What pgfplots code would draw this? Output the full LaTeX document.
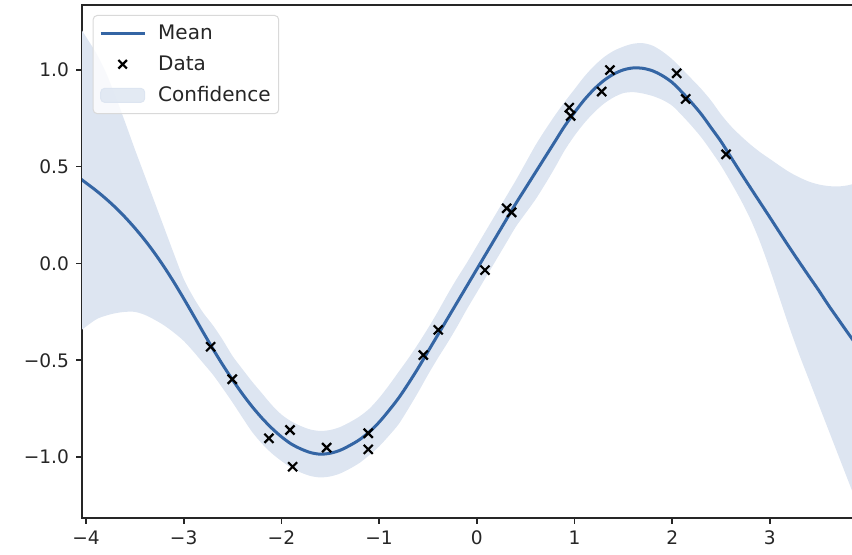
\documentclass[border=0pt]{standalone}
\usepackage{fontspec}
\setmainfont{DejaVu Sans}
\usepackage{pgfplots}
\pgfplotsset{compat=1.18}
\usepackage{pgfplotstable}
\usepgfplotslibrary{fillbetween}
\definecolor{meanblue}{RGB}{52,101,164}
\definecolor{bandblue}{RGB}{221,229,241}

\pgfplotstableread{
x m u l
-4.05 0.435 1.21 -0.345
-3.9 0.378 1.09 -0.29
-3.8 0.336 0.99 -0.27
-3.7 0.290 0.865 -0.257
-3.6 0.239 0.73 -0.25
-3.5 0.183 0.59 -0.25
-3.4 0.122 0.455 -0.265
-3.3 0.055 0.32 -0.29
-3.2 -0.018 0.185 -0.32
-3.1 -0.097 0.05 -0.357
-3.0 -0.181 -0.08 -0.40
-2.9 -0.268 -0.175 -0.455
-2.8 -0.356 -0.255 -0.515
-2.7 -0.442 -0.32 -0.575
-2.6 -0.524 -0.395 -0.645
-2.5 -0.601 -0.478 -0.718
-2.4 -0.673 -0.545 -0.795
-2.3 -0.739 -0.61 -0.87
-2.2 -0.798 -0.67 -0.93
-2.1 -0.850 -0.73 -0.98
-2.0 -0.895 -0.78 -1.02
-1.9 -0.932 -0.815 -1.055
-1.8 -0.958 -0.84 -1.08
-1.7 -0.977 -0.858 -1.098
-1.6 -0.985 -0.865 -1.105
-1.5 -0.98 -0.86 -1.10
-1.4 -0.965 -0.845 -1.085
-1.3 -0.94 -0.82 -1.06
-1.2 -0.91 -0.79 -1.03
-1.1 -0.87 -0.75 -0.99
-1.0 -0.82 -0.695 -0.945
-0.9 -0.76 -0.63 -0.89
-0.8 -0.695 -0.56 -0.83
-0.7 -0.62 -0.49 -0.75
-0.6 -0.54 -0.415 -0.665
-0.5 -0.455 -0.335 -0.575
-0.4 -0.37 -0.25 -0.49
-0.3 -0.285 -0.16 -0.41
-0.2 -0.2 -0.075 -0.325
-0.1 -0.115 0.005 -0.235
0.0 -0.03 0.09 -0.15
0.1 0.055 0.175 -0.065
0.2 0.14 0.26 0.02
0.3 0.225 0.345 0.105
0.4 0.31 0.43 0.19
0.5 0.39 0.52 0.26
0.6 0.47 0.61 0.33
0.7 0.55 0.69 0.41
0.8 0.63 0.765 0.495
0.9 0.71 0.835 0.585
1.0 0.78 0.90 0.66
1.1 0.845 0.965 0.725
1.2 0.90 1.02 0.78
1.3 0.945 1.065 0.825
1.4 0.978 1.098 0.858
1.5 1.0 1.12 0.88
1.6 1.01 1.135 0.885
1.7 1.008 1.138 0.878
1.8 0.995 1.125 0.865
1.9 0.97 1.095 0.845
2.0 0.935 1.055 0.815
2.1 0.885 1.005 0.765
2.2 0.83 0.953 0.71
2.3 0.77 0.90 0.65
2.4 0.70 0.84 0.58
2.5 0.63 0.77 0.505
2.6 0.55 0.71 0.42
2.7 0.47 0.66 0.33
2.8 0.392 0.615 0.23
2.9 0.315 0.575 0.11
3.0 0.238 0.54 -0.03
3.1 0.16 0.505 -0.18
3.2 0.083 0.472 -0.33
3.3 0.008 0.445 -0.47
3.4 -0.066 0.423 -0.60
3.5 -0.139 0.408 -0.73
3.6 -0.216 0.40 -0.86
3.7 -0.288 0.398 -0.99
3.8 -0.36 0.404 -1.12
3.9 -0.43 0.418 -1.25
}\gp

\pgfplotstableread{
x y
-2.724 -0.430
-2.503 -0.598
-2.127 -0.903
-1.912 -0.860
-1.885 -1.050
-1.537 -0.951
-1.111 -0.877
-1.111 -0.960
-0.547 -0.473
-0.394 -0.343
0.084 -0.034
0.306 0.285
0.357 0.264
0.947 0.805
0.961 0.762
1.278 0.888
1.363 0.999
2.046 0.982
2.138 0.850
2.551 0.564
}\data

\begin{document}
\begin{tikzpicture}
\begin{axis}[
  at={(0,0)}, anchor=south west,
  scale only axis, width=386pt, height=256.5pt,
  xmin=-4.041, xmax=3.861, ymin=-1.3146, ymax=1.3352,
  axis line style={black!85, line width=0.8pt},
  tick align=outside, major tick length=3pt,
  tick style={black!85, line width=0.8pt},
  xtick pos=lower, ytick pos=left,
  xtick={-4,-3,-2,-1,0,1,2,3},
  xticklabels={−4,−3,−2,−1,0,1,2,3},
  ytick={-1,-0.5,0,0.5,1},
  yticklabels={−1.0,−0.5,0.0,0.5,1.0},
  ticklabel style={font=\fontsize{9.3}{11}\selectfont, text=black!85},
  legend cell align=left,
  legend style={at={(axis description cs:0,1)}, anchor=north west,
    xshift=5.35pt, yshift=-5pt,
    draw=black!15, line width=0.5pt, rounded corners=2pt,
    fill=white, fill opacity=0.8, text opacity=1,
    font=\fontsize{10}{12}\selectfont, text=black!85,
    inner xsep=3pt, inner ysep=3.6pt, row sep=4.6pt,
    nodes={inner sep=1pt},
    /tikz/every odd column/.append style={column sep=5pt}},
]
\addplot[name path=U, draw=none, smooth, forget plot] table[x=x, y=u] {\gp};
\addplot[name path=L, draw=none, smooth, forget plot] table[x=x, y=l] {\gp};
\addplot[bandblue, forget plot] fill between[of=U and L];
\addplot[meanblue, line width=1.5pt, smooth, forget plot] table[x=x, y=m] {\gp};
\addplot[only marks, mark=x, mark size=3.2pt, black, line width=1.1pt, forget plot] table[x=x, y=y] {\data};
\addlegendimage{legend image code/.code={\draw[meanblue, line width=1.5pt] (-1pt,0pt) -- (21pt,0pt);}}
\addlegendimage{legend image code/.code={\draw[black, line width=1.1pt] plot[mark=x, mark size=3pt] coordinates {(10pt,0pt)};}}
\addlegendimage{legend image code/.code={\fill[bandblue] (-1pt,-3.5pt) rectangle (21pt,3.5pt);}}
\legend{Mean, Data, Confidence}
\end{axis}
\pgfresetboundingbox
\useasboundingbox (-41pt,-18.5pt) rectangle (385pt,259pt);
\end{tikzpicture}
\end{document}
